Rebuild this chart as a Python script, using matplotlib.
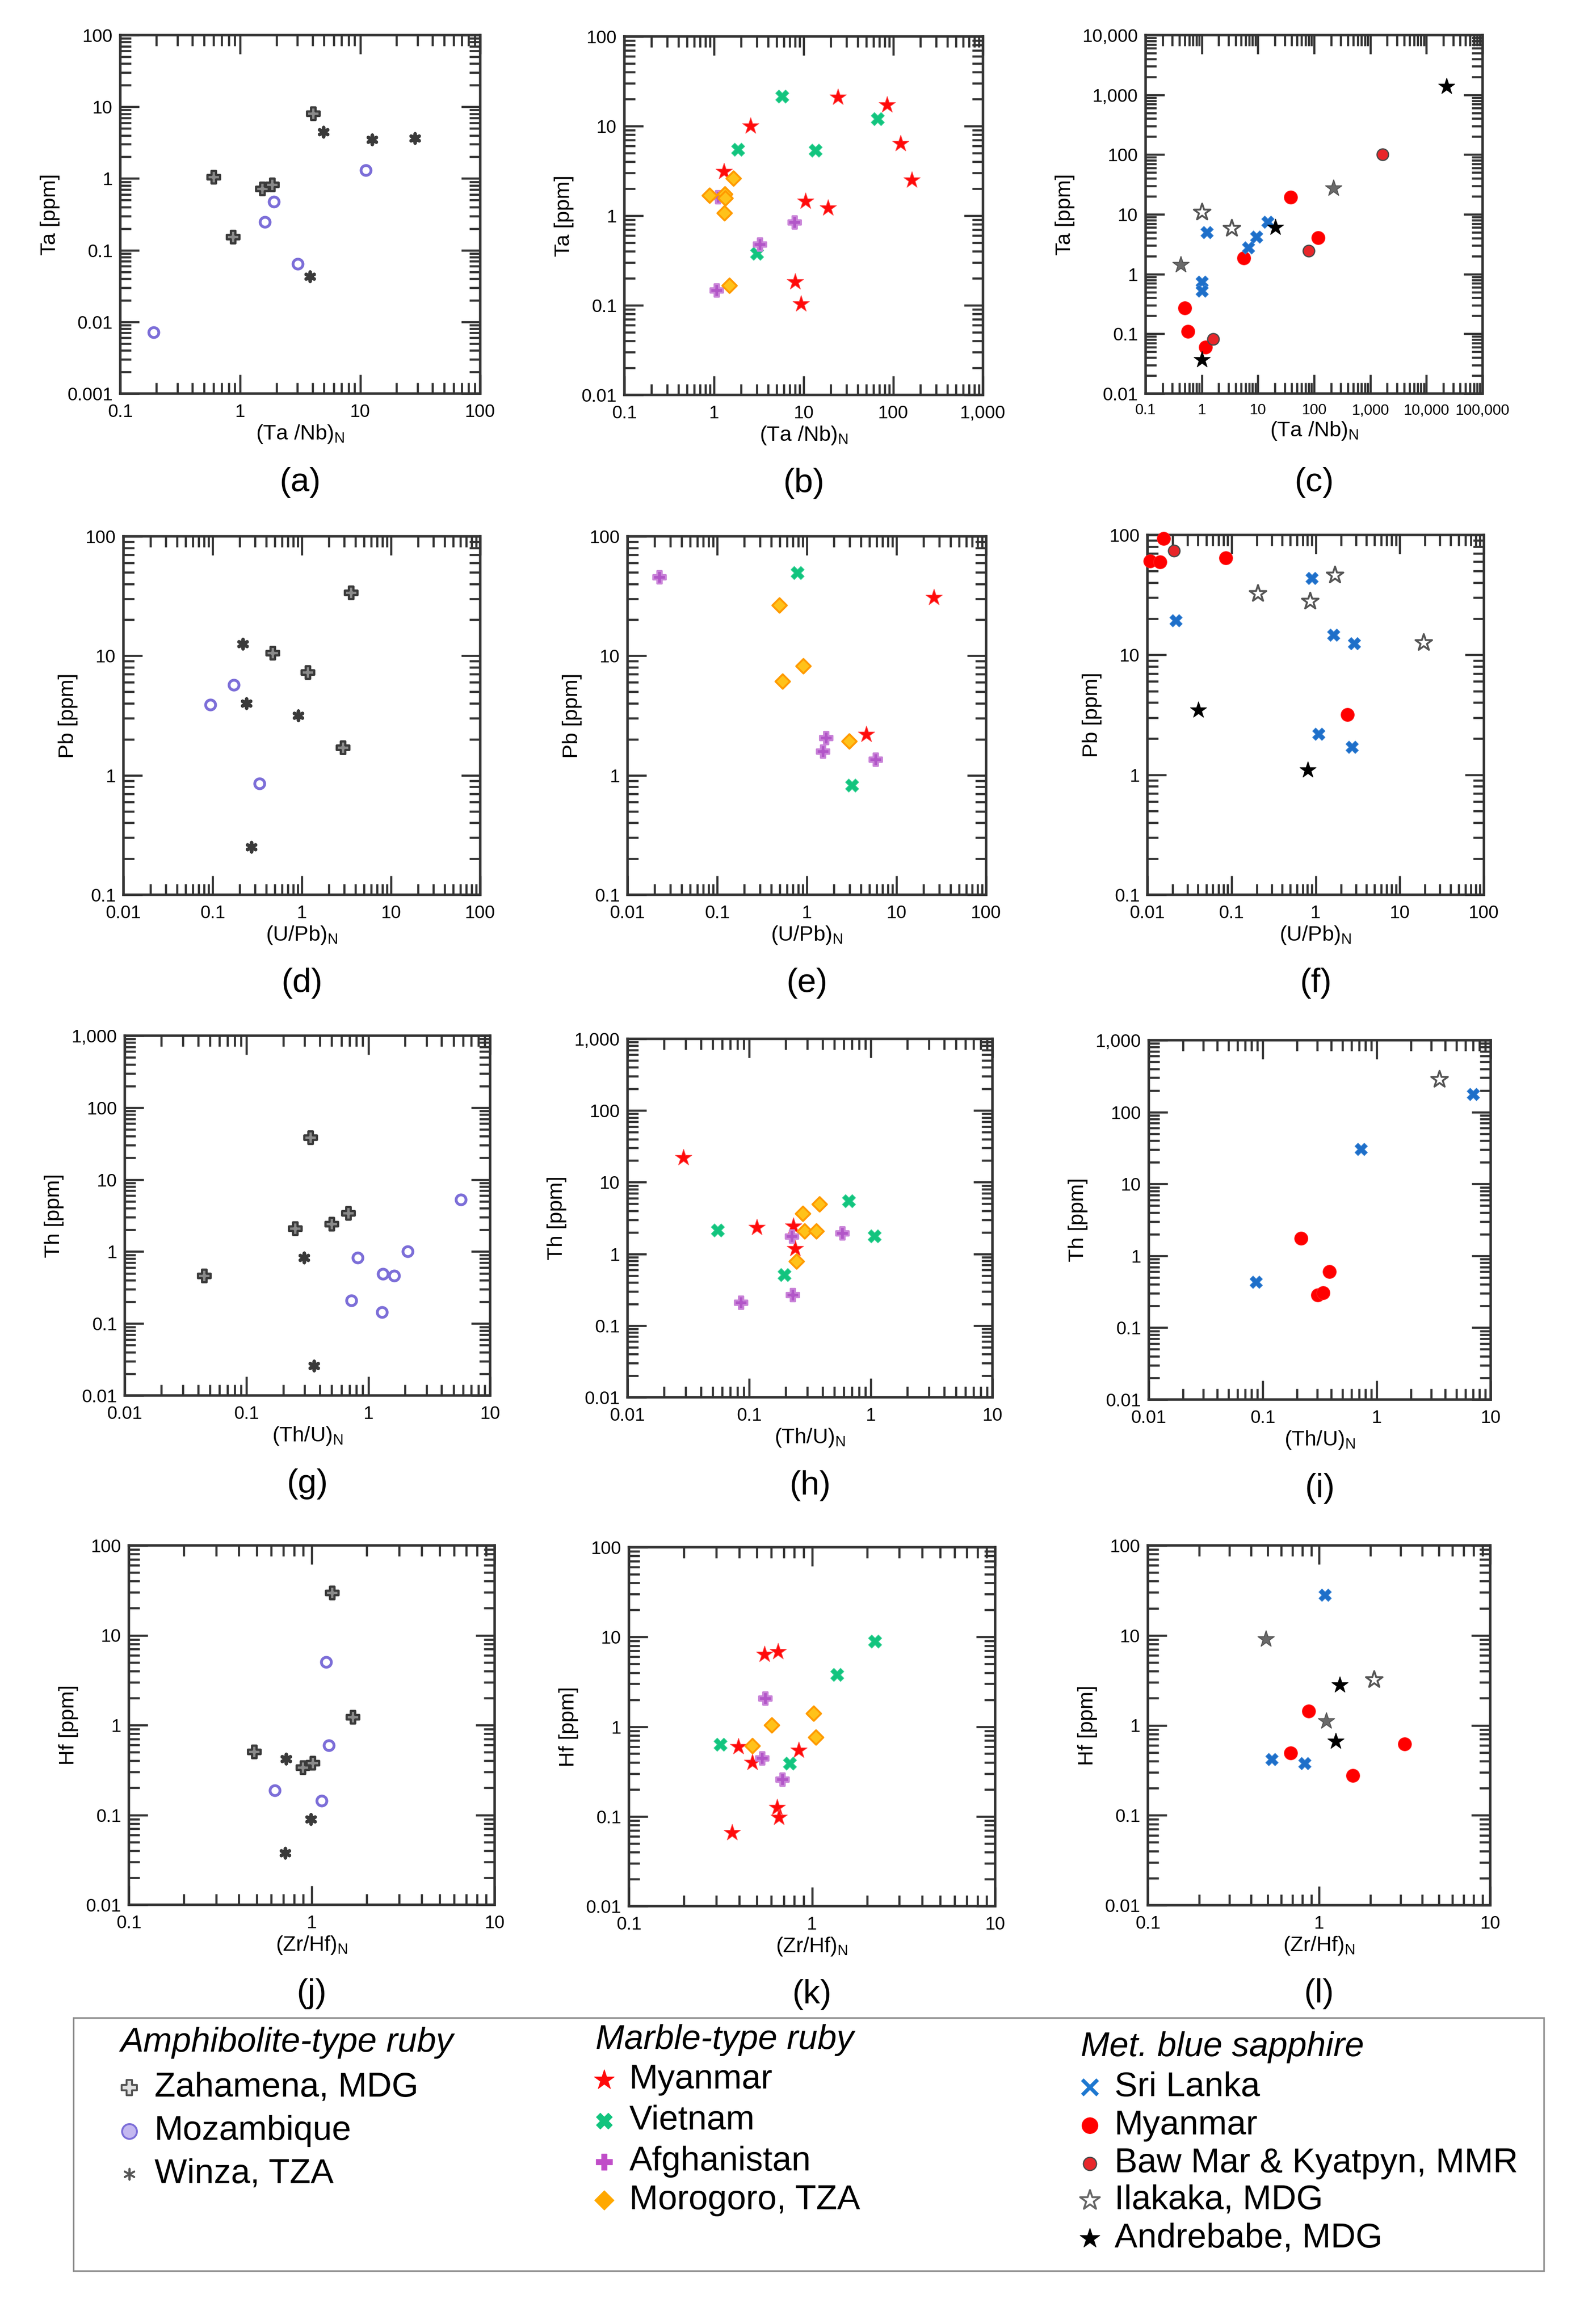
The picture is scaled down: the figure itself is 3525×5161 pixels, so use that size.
import matplotlib
matplotlib.use("Agg")
import matplotlib.pyplot as plt
from matplotlib.ticker import LogLocator, FuncFormatter, NullFormatter
from matplotlib.patches import Rectangle

plt.rcParams['font.family'] = ['Liberation Sans', 'DejaVu Sans']
plt.rcParams['mathtext.fontset'] = 'custom'
plt.rcParams['mathtext.rm'] = 'Liberation Sans'

# ---------------- data ----------------
# (a) Ta vs (Ta/Nb)N  - amphibolite-type ruby
A_ZAH_X = [0.60, 0.87, 1.52, 1.85, 4.05]
A_ZAH_Y = [1.05, 0.153, 0.72, 0.82, 8.1]
A_MOZ_X = [0.19, 1.61, 1.90, 3.02, 11.1]
A_MOZ_Y = [0.0072, 0.248, 0.474, 0.0645, 1.31]
A_WIN_X = [4.93, 12.6, 28.5, 3.81]
A_WIN_Y = [4.46, 3.48, 3.65, 0.043]
# (b) marble-type ruby
B_MYA_X = [2.54, 24.2, 85.3, 121, 161, 1.29, 10.5, 18.6, 8.07, 9.3]
B_MYA_Y = [10.0, 21.0, 17.2, 6.35, 2.5, 3.12, 1.45, 1.22, 0.183, 0.103]
B_VIE_X = [5.77, 1.85, 13.5, 66.6, 3.0]
B_VIE_Y = [21.5, 5.46, 5.33, 12.0, 0.378]
B_AFG_X = [7.93, 3.25, 1.07, 1.11]
B_AFG_Y = [0.84, 0.477, 0.146, 1.61]
B_MOR_X = [0.887, 1.32, 1.34, 1.64, 1.30, 1.48]
B_MOR_Y = [1.68, 1.75, 1.57, 2.6, 1.07, 0.166]
# (c) metamorphic blue sapphire
C_SRI_X = [1.24, 1.0, 1.0, 6.8, 9.4, 14.8]
C_SRI_Y = [5.0, 0.74, 0.52, 2.76, 4.2, 7.4]
C_MYA_X = [0.50, 0.57, 1.16, 5.6, 38.5, 119]
C_MYA_Y = [0.27, 0.109, 0.06, 1.86, 19.2, 4.05]
C_BAW_X = [1.6, 79.6, 1642]
C_BAW_Y = [0.081, 2.45, 100]
C_ILA_X = [1.0, 3.4]
C_ILA_Y = [10.9, 5.87]
C_ILAF_X = [0.42, 220]
C_ILAF_Y = [1.43, 27.5]
C_AND_X = [1.0, 20.4, 22860]
C_AND_Y = [0.037, 6.0, 1390]
# (d) Pb vs (U/Pb)N
D_ZAH_X = [3.55, 0.467, 1.16, 2.88]
D_ZAH_Y = [33.7, 10.6, 7.3, 1.71]
D_WIN_X = [0.218, 0.24, 0.91, 0.271]
D_WIN_Y = [12.6, 4.0, 3.17, 0.25]
D_MOZ_X = [0.094, 0.172, 0.334]
D_MOZ_Y = [3.89, 5.73, 0.85]
# (e)
E_MYA_X = [26.2, 4.62]
E_MYA_Y = [30.6, 2.2]
E_VIE_X = [0.787, 3.17]
E_VIE_Y = [49.4, 0.826]
E_AFG_X = [0.0227, 1.65, 1.52, 5.86]
E_AFG_Y = [45.4, 2.05, 1.58, 1.35]
E_MOR_X = [0.496, 0.91, 0.533, 2.98]
E_MOR_Y = [26.5, 8.2, 6.12, 1.93]
# (f)
F_SRI_X = [0.0217, 0.895, 1.62, 2.87, 1.08, 2.7]
F_SRI_Y = [19.4, 43.7, 14.7, 12.4, 2.19, 1.71]
F_MYA_X = [0.0108, 0.0142, 0.0156, 0.085, 2.38]
F_MYA_Y = [60.7, 59.6, 93, 64.4, 3.17]
F_BAW_X = [0.0208]
F_BAW_Y = [73.8]
F_ILA_X = [0.206, 0.858, 1.69, 19.1]
F_ILA_Y = [32.5, 28, 46.4, 12.7]
F_AND_X = [0.0403, 0.809]
F_AND_Y = [3.45, 1.1]
# (g) Th vs (Th/U)N
G_ZAH_X = [0.0446, 0.335, 0.25, 0.497, 0.686]
G_ZAH_Y = [0.46, 38.3, 2.09, 2.43, 3.4]
G_WIN_X = [0.297, 0.357]
G_WIN_Y = [0.82, 0.026]
G_MOZ_X = [5.73, 2.11, 0.82, 1.32, 1.63, 0.728, 1.29]
G_MOZ_Y = [5.3, 1.0, 0.82, 0.49, 0.46, 0.21, 0.144]
# (h)
H_MYA_X = [0.0288, 0.116, 0.231, 0.238]
H_MYA_Y = [22, 2.34, 2.42, 1.19]
H_VIE_X = [0.055, 0.195, 0.658, 1.07]
H_VIE_Y = [2.14, 0.51, 5.44, 1.78]
H_AFG_X = [0.086, 0.228, 0.224, 0.584]
H_AFG_Y = [0.208, 0.265, 1.75, 1.93]
H_MOR_X = [0.276, 0.377, 0.285, 0.357, 0.245]
H_MOR_Y = [3.63, 4.92, 2.08, 2.08, 0.79]
# (i)
I_SRI_X = [0.0875, 0.727, 7.04]
I_SRI_Y = [0.433, 30.4, 178]
I_ILA_X = [3.54]
I_ILA_Y = [286]
I_MYA_X = [0.216, 0.384, 0.303, 0.338]
I_MYA_Y = [1.74, 0.6, 0.283, 0.307]
# (j) Hf vs (Zr/Hf)N
J_ZAH_X = [1.29, 1.68, 0.485, 0.891, 1.01]
J_ZAH_Y = [29.6, 1.23, 0.506, 0.337, 0.378]
J_WIN_X = [0.722, 0.99, 0.716]
J_WIN_Y = [0.42, 0.09, 0.0375]
J_MOZ_X = [1.2, 1.24, 0.628, 1.13]
J_MOZ_Y = [5.06, 0.595, 0.187, 0.144]
# (k)
K_MYA_X = [0.551, 0.653, 0.397, 0.473, 0.846, 0.646, 0.659, 0.366]
K_MYA_Y = [6.4, 6.83, 0.6, 0.4, 0.545, 0.126, 0.097, 0.066]
K_VIE_X = [0.316, 0.757, 1.37, 2.21]
K_VIE_Y = [0.635, 0.39, 3.81, 8.93]
K_AFG_X = [0.557, 0.536, 0.69]
K_AFG_Y = [2.07, 0.445, 0.256]
K_MOR_X = [0.601, 1.02, 1.05, 0.473]
K_MOR_Y = [1.04, 1.41, 0.765, 0.61]
# (l)
L_SRI_X = [1.08, 0.528, 0.826]
L_SRI_Y = [28.1, 0.421, 0.379]
L_MYA_X = [0.869, 0.682, 1.58, 3.16]
L_MYA_Y = [1.44, 0.495, 0.275, 0.621]
L_ILAF_X = [0.489, 1.1]
L_ILAF_Y = [9.08, 1.11]
L_ILA_X = [2.1]
L_ILA_Y = [3.23]
L_AND_X = [1.32, 1.25]
L_AND_Y = [2.81, 0.668]

PANEL_LETTERS = ['a', 'b', 'c', 'd', 'e', 'f', 'g', 'h', 'i', 'j', 'k', 'l']
XLABELS = ['(Ta /Nb)', '(U/Pb)', '(Th/U)', '(Zr/Hf)']
YLABELS = ['Ta [ppm]', 'Pb [ppm]', 'Th [ppm]', 'Hf [ppm]']

LEG_AMPH = ['Zahamena, MDG', 'Mozambique', 'Winza, TZA']
LEG_MARB = ['Myanmar', 'Vietnam', 'Afghanistan', 'Morogoro, TZA']
LEG_SAPH = ['Sri Lanka', 'Myanmar', 'Baw Mar & Kyatpyn, MMR', 'Ilakaka, MDG', 'Andrebabe, MDG']

# ---------------- styles ----------------
ASTER = (6, 2, 0)
STY = {
    'zah': dict(marker='P', s=400, facecolor='#8a8a8a', edgecolor='#3a3a3a', linewidths=3.5),
    'moz': dict(marker='o', s=250, facecolor='white', edgecolor='#7c6ed8', linewidths=4.5),
    'win': dict(marker=ASTER, s=220, color='#3a3a3a', linewidths=5.5),
    'mya': dict(marker='*', s=760, facecolor='#ff0a0a', edgecolor='#ff4a4a', linewidths=1.0),
    'vie': dict(marker='X', s=450, facecolor='#12c47e', edgecolor='#3fd49a', linewidths=1.0),
    'afg': dict(marker='P', s=380, facecolor='#b256c8', edgecolor='#c983d8', linewidths=3.0),
    'mor': dict(marker='D', s=270, facecolor='#ffc21a', edgecolor='#ff9a00', linewidths=3.0),
    'sri': dict(marker='X', s=400, facecolor='#1e6fc9', edgecolor='#3d86d6', linewidths=1.0),
    'smy': dict(marker='o', s=450, facecolor='#ff0000', edgecolor='#ff2020', linewidths=1.0),
    'baw': dict(marker='o', s=340, facecolor='#e8262a', edgecolor='#4a4a4a', linewidths=2.0),
    'ila': dict(marker='*', s=780, facecolor='white', edgecolor='#555555', linewidths=3.0),
    'ilf': dict(marker='*', s=740, facecolor='#6a6a6a', edgecolor='#555555', linewidths=1.5),
    'and': dict(marker='*', s=740, facecolor='#000000', edgecolor='#000000', linewidths=1.0),
}

SERIES = {
    'a': [('zah', A_ZAH_X, A_ZAH_Y), ('win', A_WIN_X, A_WIN_Y), ('moz', A_MOZ_X, A_MOZ_Y)],
    'b': [('mya', B_MYA_X, B_MYA_Y), ('vie', B_VIE_X, B_VIE_Y), ('afg', B_AFG_X, B_AFG_Y), ('mor', B_MOR_X, B_MOR_Y)],
    'c': [('smy', C_MYA_X, C_MYA_Y), ('baw', C_BAW_X, C_BAW_Y), ('sri', C_SRI_X, C_SRI_Y),
          ('ila', C_ILA_X, C_ILA_Y), ('ilf', C_ILAF_X, C_ILAF_Y), ('and', C_AND_X, C_AND_Y)],
    'd': [('zah', D_ZAH_X, D_ZAH_Y), ('win', D_WIN_X, D_WIN_Y), ('moz', D_MOZ_X, D_MOZ_Y)],
    'e': [('mya', E_MYA_X, E_MYA_Y), ('vie', E_VIE_X, E_VIE_Y), ('afg', E_AFG_X, E_AFG_Y), ('mor', E_MOR_X, E_MOR_Y)],
    'f': [('smy', F_MYA_X, F_MYA_Y), ('baw', F_BAW_X, F_BAW_Y), ('sri', F_SRI_X, F_SRI_Y),
          ('ila', F_ILA_X, F_ILA_Y), ('and', F_AND_X, F_AND_Y)],
    'g': [('zah', G_ZAH_X, G_ZAH_Y), ('win', G_WIN_X, G_WIN_Y), ('moz', G_MOZ_X, G_MOZ_Y)],
    'h': [('mya', H_MYA_X, H_MYA_Y), ('vie', H_VIE_X, H_VIE_Y), ('afg', H_AFG_X, H_AFG_Y), ('mor', H_MOR_X, H_MOR_Y)],
    'i': [('smy', I_MYA_X, I_MYA_Y), ('sri', I_SRI_X, I_SRI_Y), ('ila', I_ILA_X, I_ILA_Y)],
    'j': [('zah', J_ZAH_X, J_ZAH_Y), ('win', J_WIN_X, J_WIN_Y), ('moz', J_MOZ_X, J_MOZ_Y)],
    'k': [('mya', K_MYA_X, K_MYA_Y), ('vie', K_VIE_X, K_VIE_Y), ('afg', K_AFG_X, K_AFG_Y), ('mor', K_MOR_X, K_MOR_Y)],
    'l': [('smy', L_MYA_X, L_MYA_Y), ('sri', L_SRI_X, L_SRI_Y), ('ilf', L_ILAF_X, L_ILAF_Y),
          ('ila', L_ILA_X, L_ILA_Y), ('and', L_AND_X, L_AND_Y)],
}

# ---------------- layout ----------------
W, H = 3525, 5161
fig = plt.figure(figsize=(W / 100, H / 100), dpi=100)
fig.patch.set_facecolor('white')

RECTS = {  # left, top, right, bottom in pixels
    'a': (267, 78, 1066, 874), 'b': (1386, 81, 2182, 877), 'c': (2543, 78, 3291, 874),
    'd': (274, 1191, 1066, 1987), 'e': (1393, 1191, 2189, 1987), 'f': (2547, 1188, 3294, 1987),
    'g': (277, 2300, 1088, 3099), 'h': (1393, 2307, 2203, 3103), 'i': (2550, 2310, 3309, 3108),
    'j': (286, 3432, 1098, 4230), 'k': (1396, 3436, 2209, 4233), 'l': (2548, 3432, 3308, 4231),
}
LIMS = {
    'a': ((0.1, 100), (0.001, 100)), 'b': ((0.1, 1000), (0.01, 100)), 'c': ((0.1, 1e5), (0.01, 1e4)),
    'd': ((0.01, 100), (0.1, 100)), 'e': ((0.01, 100), (0.1, 100)), 'f': ((0.01, 100), (0.1, 100)),
    'g': ((0.01, 10), (0.01, 1000)), 'h': ((0.01, 10), (0.01, 1000)), 'i': ((0.01, 10), (0.01, 1000)),
    'j': ((0.1, 10), (0.01, 100)), 'k': ((0.1, 10), (0.01, 100)), 'l': ((0.1, 10), (0.01, 100)),
}


def fmt(v, pos):
    if v >= 1:
        return f"{v:,.0f}"
    return f"{v:g}"


for idx, p in enumerate(PANEL_LETTERS):
    l, t, r, b = RECTS[p]
    ax = fig.add_axes([l / W, 1 - b / H, (r - l) / W, (b - t) / H])
    ax.set_xscale('log')
    ax.set_yscale('log')
    (x0, x1), (y0, y1) = LIMS[p]
    ax.set_xlim(x0, x1)
    ax.set_ylim(y0, y1)
    for axis in (ax.xaxis, ax.yaxis):
        axis.set_major_locator(LogLocator(base=10, numticks=30))
        axis.set_minor_locator(LogLocator(base=10, subs=range(2, 10), numticks=30))
        axis.set_major_formatter(FuncFormatter(fmt))
        axis.set_minor_formatter(NullFormatter())
    ax.tick_params(which='both', direction='in', top=True, right=True, width=3.4, color='#333333')
    ax.tick_params(which='major', length=30, labelsize=29)
    ax.tick_params(axis='x', which='major', pad=16)
    ax.tick_params(axis='y', which='major', pad=12)
    ax.tick_params(which='minor', length=17)
    if p == 'c':
        ax.tick_params(axis='x', which='major', labelsize=24)
    for sp in ax.spines.values():
        sp.set_linewidth(4.0)
        sp.set_color('#333333')
    row = idx // 3
    ax.set_ylabel(YLABELS[row], fontsize=34, labelpad=12)
    ax.set_xlabel(XLABELS[row] + r'$_\mathregular{N}$', fontsize=34, labelpad=4)
    for key, xs, ys in SERIES[p]:
        ax.scatter(xs, ys, zorder=3, clip_on=False, **STY[key])
    fig.text((l + r) / 2 / W, 1 - (b + 197) / H, f'({p})', ha='center', va='center', fontsize=54)

# ---------------- legend ----------------
lax = fig.add_axes([0, 0, 1, 1])
lax.set_xlim(0, W)
lax.set_ylim(H, 0)
lax.axis('off')
lax.add_patch(Rectangle((163, 4481), 3427 - 163, 5043 - 4481, fill=False, edgecolor='#8c8c8c', linewidth=2.5))

LFS = 55
LEG_STY = {
    'zah': dict(marker='P', s=620, facecolor='#e0e0e0', edgecolor='#555555', linewidths=3),
    'moz': dict(marker='o', s=560, facecolor='#c4b8f0', edgecolor='#7c6ed8', linewidths=3),
    'win': dict(marker=ASTER, s=300, color='#555555', linewidths=3),
    'mya': dict(marker='*', s=1100, facecolor='#ff0a0a', edgecolor='#ff0a0a', linewidths=1),
    'vie': dict(marker='X', s=650, facecolor='#12c47e', edgecolor='#12c47e', linewidths=1),
    'afg': dict(marker='P', s=650, facecolor='#c04cc8', edgecolor='#c04cc8', linewidths=1),
    'mor': dict(marker='D', s=480, facecolor='#ffa800', edgecolor='#ffa800', linewidths=1),
    'sri': dict(marker='x', s=600, color='#1e78d0', linewidths=6),
    'smy': dict(marker='o', s=650, facecolor='#ff0000', edgecolor='#ff0000', linewidths=1),
    'baw': dict(marker='o', s=440, facecolor='#e8262a', edgecolor='#4a4a4a', linewidths=2),
    'ila': dict(marker='*', s=1100, facecolor='white', edgecolor='#666666', linewidths=3),
    'and': dict(marker='*', s=1100, facecolor='#000000', edgecolor='#000000', linewidths=1),
}

cols = [
    ('Amphibolite-type ruby', 268, 4537, 287, 343, [4636, 4733, 4828], ['zah', 'moz', 'win'], LEG_AMPH),
    ('Marble-type ruby', 1322, 4530, 1341, 1397, [4619, 4710, 4801, 4886], ['mya', 'vie', 'afg', 'mor'], LEG_MARB),
    ('Met. blue sapphire', 2399, 4547, 2419, 2474, [4635, 4720, 4805, 4886, 4971],
     ['sri', 'smy', 'baw', 'ila', 'and'], LEG_SAPH),
]
for head, hx, hy, mx, tx, ys, keys, labels in cols:
    lax.text(hx, hy, head, fontsize=LFS, style='italic', ha='left', va='center')
    for yy, k, lab in zip(ys, keys, labels):
        lax.scatter([mx], [yy], **LEG_STY[k])
        lax.text(tx, yy, lab, fontsize=LFS, ha='left', va='center')

fig.savefig('out.png', dpi=100, facecolor='white')
